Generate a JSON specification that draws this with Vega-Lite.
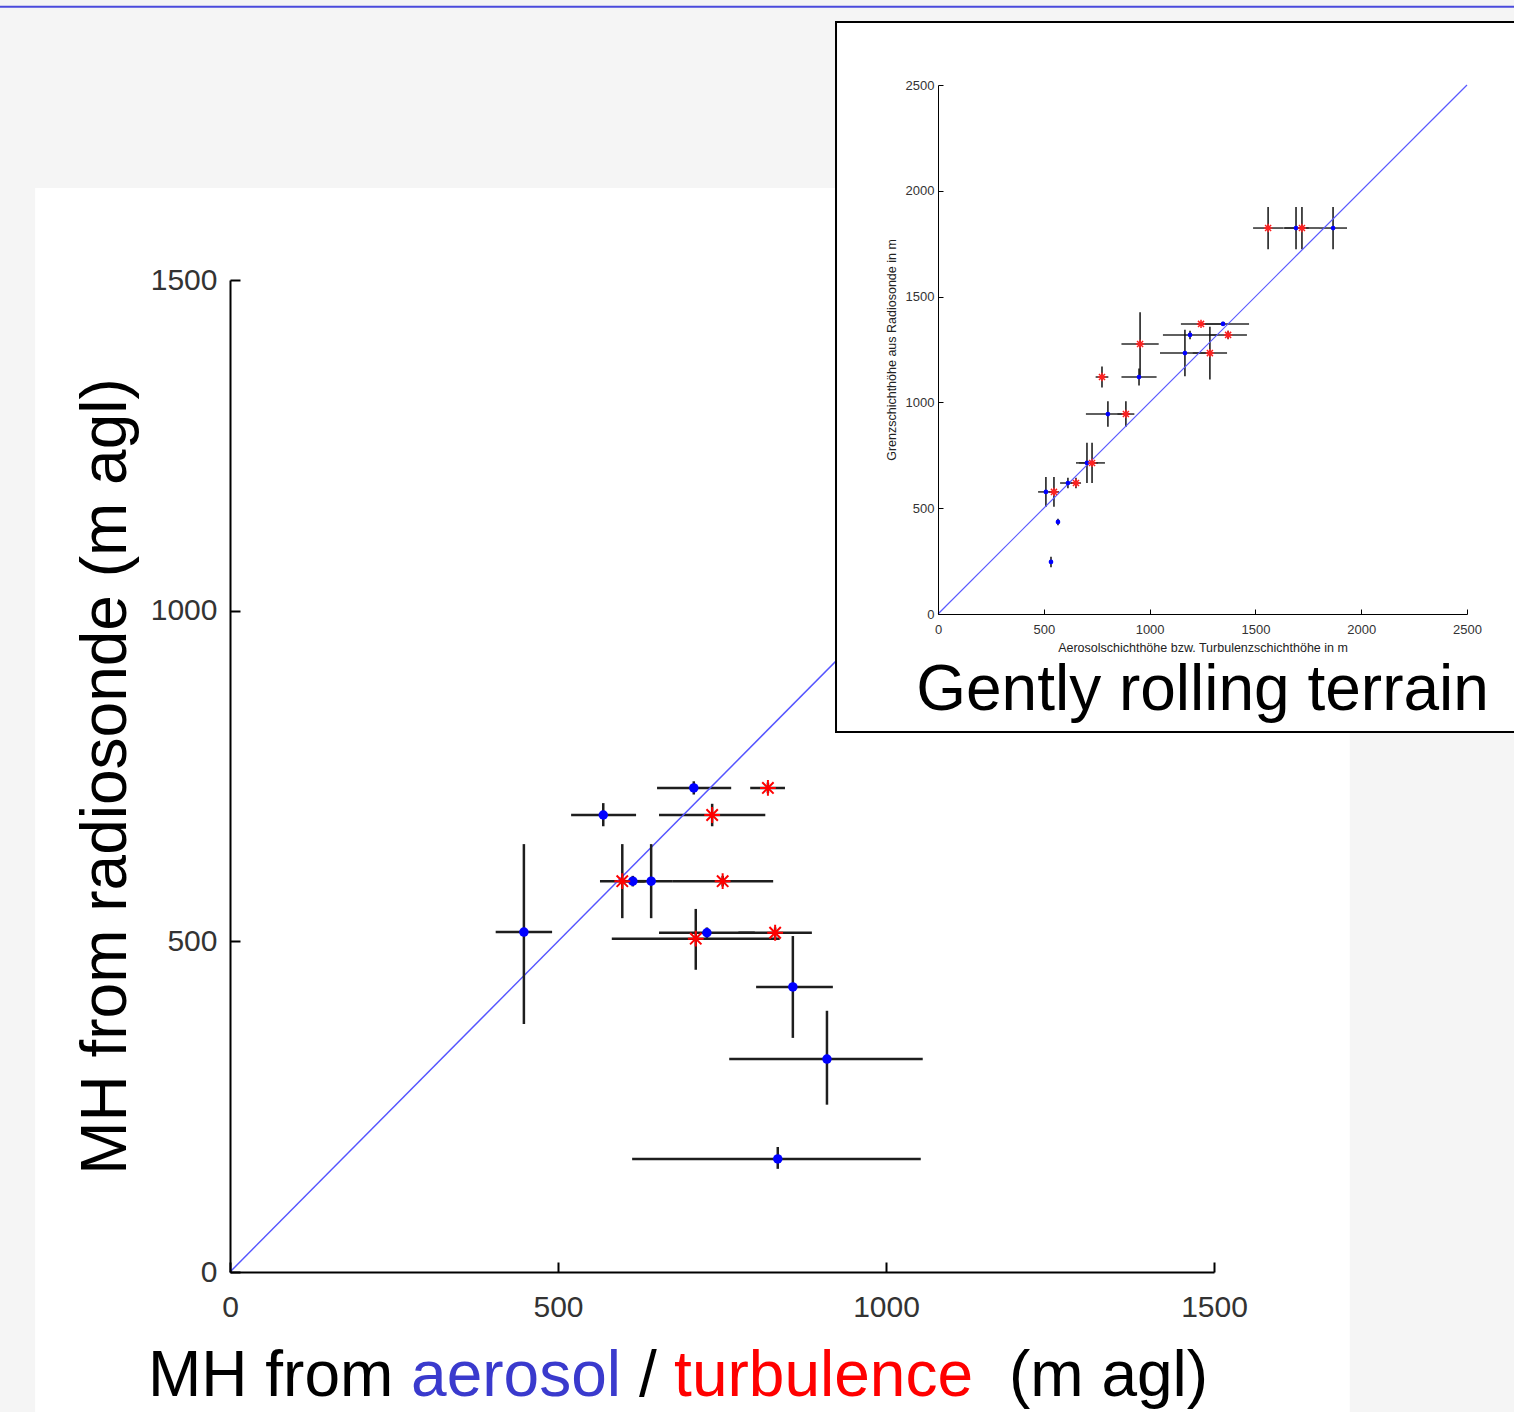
{
  "$schema": "https://vega.github.io/schema/vega-lite/v6.json",
  "width": 984,
  "height": 992,
  "autosize": "none",
  "padding": {"left": 230, "top": 280, "right": 300, "bottom": 140},
  "background": "white",
  "config": {
    "view": {"stroke": null},
    "font": "Liberation Sans",
    "axis": {"grid": false}
  },
  "datasets": {
    "main": [
      {"src": "aerosol", "x": 707, "y": 732, "x_lo": 651, "x_hi": 764, "y_lo": 722, "y_hi": 742},
      {"src": "aerosol", "x": 569, "y": 691, "x_lo": 520, "x_hi": 619, "y_lo": 674, "y_hi": 709},
      {"src": "aerosol", "x": 614, "y": 591, "x_lo": 594, "x_hi": 634, "y_lo": 583, "y_hi": 599},
      {"src": "aerosol", "x": 642, "y": 591, "x_lo": 610, "x_hi": 674, "y_lo": 535, "y_hi": 647},
      {"src": "aerosol", "x": 448, "y": 514, "x_lo": 405, "x_hi": 491, "y_lo": 375, "y_hi": 647},
      {"src": "aerosol", "x": 727, "y": 513, "x_lo": 654, "x_hi": 800, "y_lo": 505, "y_hi": 521},
      {"src": "aerosol", "x": 858, "y": 431, "x_lo": 802, "x_hi": 919, "y_lo": 354, "y_hi": 508},
      {"src": "aerosol", "x": 910, "y": 322, "x_lo": 761, "x_hi": 1056, "y_lo": 253, "y_hi": 395},
      {"src": "aerosol", "x": 835, "y": 171, "x_lo": 613, "x_hi": 1053, "y_lo": 156, "y_hi": 189},
      {"src": "turbulence", "x": 820, "y": 732, "x_lo": 793, "x_hi": 846, "y_lo": 724, "y_hi": 740},
      {"src": "turbulence", "x": 735, "y": 691, "x_lo": 654, "x_hi": 816, "y_lo": 674, "y_hi": 708},
      {"src": "turbulence", "x": 598, "y": 591, "x_lo": 564, "x_hi": 632, "y_lo": 535, "y_hi": 647},
      {"src": "turbulence", "x": 751, "y": 591, "x_lo": 674, "x_hi": 828, "y_lo": 583, "y_hi": 599},
      {"src": "turbulence", "x": 710, "y": 504, "x_lo": 582, "x_hi": 838, "y_lo": 457, "y_hi": 549},
      {"src": "turbulence", "x": 831, "y": 513, "x_lo": 775, "x_hi": 887, "y_lo": 505, "y_hi": 521}
    ],
    "inset": [
      {"src": "aerosol", "x": 950, "y": 1120, "x_lo": 867, "x_hi": 1033, "y_lo": 1080, "y_hi": 1160},
      {"src": "aerosol", "x": 803, "y": 945, "x_lo": 699, "x_hi": 907, "y_lo": 885, "y_hi": 1005},
      {"src": "aerosol", "x": 704, "y": 714, "x_lo": 652, "x_hi": 756, "y_lo": 619, "y_hi": 809},
      {"src": "aerosol", "x": 614, "y": 619, "x_lo": 577, "x_hi": 651, "y_lo": 594, "y_hi": 644},
      {"src": "aerosol", "x": 510, "y": 577, "x_lo": 473, "x_hi": 547, "y_lo": 507, "y_hi": 647},
      {"src": "aerosol", "x": 567, "y": 435, "x_lo": 567, "x_hi": 567, "y_lo": 420, "y_hi": 450},
      {"src": "aerosol", "x": 534, "y": 246, "x_lo": 534, "x_hi": 534, "y_lo": 221, "y_hi": 271},
      {"src": "aerosol", "x": 1692, "y": 1824, "x_lo": 1632, "x_hi": 1752, "y_lo": 1724, "y_hi": 1924},
      {"src": "aerosol", "x": 1867, "y": 1824, "x_lo": 1801, "x_hi": 1933, "y_lo": 1724, "y_hi": 1924},
      {"src": "aerosol", "x": 1347, "y": 1371, "x_lo": 1224, "x_hi": 1470, "y_lo": 1361, "y_hi": 1381},
      {"src": "aerosol", "x": 1191, "y": 1319, "x_lo": 1063, "x_hi": 1319, "y_lo": 1299, "y_hi": 1339},
      {"src": "aerosol", "x": 1167, "y": 1233, "x_lo": 1049, "x_hi": 1285, "y_lo": 1123, "y_hi": 1343},
      {"src": "turbulence", "x": 955, "y": 1276, "x_lo": 867, "x_hi": 1043, "y_lo": 1126, "y_hi": 1426},
      {"src": "turbulence", "x": 775, "y": 1120, "x_lo": 745, "x_hi": 805, "y_lo": 1070, "y_hi": 1170},
      {"src": "turbulence", "x": 888, "y": 945, "x_lo": 848, "x_hi": 928, "y_lo": 885, "y_hi": 1005},
      {"src": "turbulence", "x": 728, "y": 714, "x_lo": 667, "x_hi": 789, "y_lo": 619, "y_hi": 809},
      {"src": "turbulence", "x": 652, "y": 619, "x_lo": 628, "x_hi": 676, "y_lo": 594, "y_hi": 644},
      {"src": "turbulence", "x": 548, "y": 577, "x_lo": 524, "x_hi": 572, "y_lo": 507, "y_hi": 647},
      {"src": "turbulence", "x": 1560, "y": 1824, "x_lo": 1489, "x_hi": 1631, "y_lo": 1724, "y_hi": 1924},
      {"src": "turbulence", "x": 1720, "y": 1824, "x_lo": 1638, "x_hi": 1802, "y_lo": 1724, "y_hi": 1924},
      {"src": "turbulence", "x": 1243, "y": 1371, "x_lo": 1148, "x_hi": 1338, "y_lo": 1361, "y_hi": 1381},
      {"src": "turbulence", "x": 1371, "y": 1319, "x_lo": 1282, "x_hi": 1460, "y_lo": 1299, "y_hi": 1339},
      {"src": "turbulence", "x": 1285, "y": 1233, "x_lo": 1204, "x_hi": 1366, "y_lo": 1108, "y_hi": 1358}
    ]
  },
  "layer": [
    {
      "layer": [
        {
          "data": {"name": "main"},
          "mark": {"type": "rule", "color": "#1e1e1e", "strokeWidth": 2.5},
          "encoding": {
            "x": {
              "field": "x_lo", "type": "quantitative",
              "scale": {"domain": [0, 1500], "nice": false, "zero": false},
              "axis": {
                "orient": "bottom", "values": [0, 500, 1000, 1500], "format": "d", "title": null,
                "tickSize": -10, "tickWidth": 2, "tickColor": "black",
                "domainColor": "black", "domainWidth": 2,
                "labelFontSize": 30, "labelColor": "#333", "labelFont": "Liberation Sans",
                "labelPadding": 30, "labelFlush": false, "labelOverlap": false, "zindex": 1
              }
            },
            "x2": {"field": "x_hi"},
            "y": {
              "field": "y", "type": "quantitative",
              "scale": {"domain": [0, 1500], "nice": false, "zero": false},
              "axis": {
                "orient": "left", "values": [0, 500, 1000, 1500], "format": "d",
                "title": "MH from radiosonde (m agl)",
                "titleFontSize": 64, "titleFont": "Liberation Sans", "titleFontWeight": "normal",
                "titleColor": "black", "titlePadding": 12,
                "tickSize": -10, "tickWidth": 2, "tickColor": "black",
                "domainColor": "black", "domainWidth": 2,
                "labelFontSize": 30, "labelColor": "#333", "labelFont": "Liberation Sans",
                "labelPadding": 23, "labelFlush": false, "labelOverlap": false, "zindex": 1
              }
            }
          }
        },
        {
          "data": {"values": [{}]},
          "mark": {"type": "rect", "fill": "#f5f5f5"},
          "encoding": {
            "x": {"datum": -360, "type": "quantitative"},
            "x2": {"datum": 1970},
            "y": {"datum": 1935, "type": "quantitative"},
            "y2": {"datum": 1639}
          }
        },
        {
          "data": {"values": [{}]},
          "mark": {"type": "rect", "fill": "#f5f5f5"},
          "encoding": {
            "x": {"datum": -360, "type": "quantitative"},
            "x2": {"datum": -297},
            "y": {"datum": 1639, "type": "quantitative"},
            "y2": {"datum": -230}
          }
        },
        {
          "data": {"values": [{}]},
          "mark": {"type": "rect", "fill": "#f5f5f5"},
          "encoding": {
            "x": {"datum": 1707, "type": "quantitative"},
            "x2": {"datum": 1970},
            "y": {"datum": 1639, "type": "quantitative"},
            "y2": {"datum": -230}
          }
        },
        {
          "data": {"values": [{}]},
          "mark": {"type": "rule", "color": "#4b4bdc", "strokeWidth": 2},
          "encoding": {
            "x": {"datum": -351, "type": "quantitative"},
            "x2": {"datum": 1958},
            "y": {"datum": 1913, "type": "quantitative"}
          }
        },
        {
          "data": {"values": [{}]},
          "mark": {"type": "rule", "color": "#5555ff", "strokeWidth": 1.5},
          "encoding": {
            "x": {"datum": 0, "type": "quantitative"},
            "y": {"datum": 0, "type": "quantitative"},
            "x2": {"datum": 1500},
            "y2": {"datum": 1500}
          }
        },
        {
          "data": {"name": "main"},
          "mark": {"type": "rule", "color": "#1e1e1e", "strokeWidth": 2.5},
          "encoding": {
            "x": {"field": "x", "type": "quantitative"},
            "y": {"field": "y_lo", "type": "quantitative"},
            "y2": {"field": "y_hi"}
          }
        },
        {
          "data": {"name": "main"},
          "transform": [{"filter": "datum.src === 'aerosol'"}],
          "mark": {"type": "point", "shape": "circle", "filled": true, "color": "#0000ff", "size": 90, "opacity": 1},
          "encoding": {
            "x": {"field": "x", "type": "quantitative"},
            "y": {"field": "y", "type": "quantitative"}
          }
        },
        {
          "data": {"name": "main"},
          "transform": [{"filter": "datum.src === 'turbulence'"}],
          "mark": {
            "type": "point", "filled": false, "color": "#ff0000", "strokeWidth": 2, "size": 250, "opacity": 1,
            "shape": "M-1,0L1,0M0,-1L0,1M-0.72,-0.72L0.72,0.72M-0.72,0.72L0.72,-0.72"
          },
          "encoding": {
            "x": {"field": "x", "type": "quantitative"},
            "y": {"field": "y", "type": "quantitative"}
          }
        },
        {
          "data": {"values": [{}]},
          "mark": {"type": "text", "text": "MH from", "align": "left", "baseline": "alphabetic", "fontSize": 64, "font": "Liberation Sans", "color": "black"},
          "encoding": {
            "x": {"datum": -125, "type": "quantitative"},
            "y": {"datum": -187.5, "type": "quantitative"}
          }
        },
        {
          "data": {"values": [{}]},
          "mark": {"type": "text", "text": "aerosol", "align": "left", "baseline": "alphabetic", "fontSize": 64, "font": "Liberation Sans", "color": "#3a3acd"},
          "encoding": {
            "x": {"datum": 276, "type": "quantitative"},
            "y": {"datum": -187.5, "type": "quantitative"}
          }
        },
        {
          "data": {"values": [{}]},
          "mark": {"type": "text", "text": "/", "align": "left", "baseline": "alphabetic", "fontSize": 64, "font": "Liberation Sans", "color": "black"},
          "encoding": {
            "x": {"datum": 623.5, "type": "quantitative"},
            "y": {"datum": -187.5, "type": "quantitative"}
          }
        },
        {
          "data": {"values": [{}]},
          "mark": {"type": "text", "text": "turbulence", "align": "left", "baseline": "alphabetic", "fontSize": 64, "font": "Liberation Sans", "color": "#ff0000"},
          "encoding": {
            "x": {"datum": 677, "type": "quantitative"},
            "y": {"datum": -187.5, "type": "quantitative"}
          }
        },
        {
          "data": {"values": [{}]},
          "mark": {"type": "text", "text": "(m agl)", "align": "left", "baseline": "alphabetic", "fontSize": 64, "font": "Liberation Sans", "color": "black"},
          "encoding": {
            "x": {"datum": 1187.5, "type": "quantitative"},
            "y": {"datum": -187.5, "type": "quantitative"}
          }
        },
        {
          "data": {"values": [{}]},
          "mark": {"type": "rect", "fill": "white", "stroke": "black", "strokeWidth": 2},
          "encoding": {
            "x": {"datum": 923.8, "type": "quantitative"},
            "x2": {"datum": 1975},
            "y": {"datum": 1890, "type": "quantitative"},
            "y2": {"datum": 816.6}
          }
        }
      ]
    },
    {
      "layer": [
        {
          "data": {"name": "inset"},
          "mark": {"type": "rule", "color": "#2a2a2a", "strokeWidth": 1.5},
          "encoding": {
            "x": {
              "field": "x_lo", "type": "quantitative",
              "scale": {"domain": [0, 2500], "range": [708, 1237], "nice": false, "zero": false},
              "axis": {
                "orient": "bottom", "offset": -658, "values": [0, 500, 1000, 1500, 2000, 2500], "format": "d",
                "title": "Aerosolschichthöhe bzw. Turbulenzschichthöhe in m",
                "titleFontSize": 12.5, "titleFont": "Liberation Sans", "titleFontWeight": "normal",
                "titleColor": "#222", "titlePadding": 5,
                "tickSize": -5, "tickWidth": 1, "tickColor": "black",
                "domainColor": "black", "domainWidth": 1,
                "labelFontSize": 13, "labelColor": "#333", "labelFont": "Liberation Sans",
                "labelPadding": 14, "labelFlush": false, "labelOverlap": false, "zindex": 1
              }
            },
            "x2": {"field": "x_hi"},
            "y": {
              "field": "y", "type": "quantitative",
              "scale": {"domain": [0, 2500], "range": [334, -195], "nice": false, "zero": false},
              "axis": {
                "orient": "left", "offset": -708, "values": [0, 500, 1000, 1500, 2000, 2500], "format": "d",
                "title": "Grenzschichthöhe aus Radiosonde in m",
                "titleFontSize": 12.5, "titleFont": "Liberation Sans", "titleFontWeight": "normal",
                "titleColor": "#222", "titlePadding": 7,
                "tickSize": -5, "tickWidth": 1, "tickColor": "black",
                "domainColor": "black", "domainWidth": 1,
                "labelFontSize": 13, "labelColor": "#333", "labelFont": "Liberation Sans",
                "labelPadding": 9, "labelFlush": false, "labelOverlap": false, "zindex": 1
              }
            }
          }
        },
        {
          "data": {"name": "inset"},
          "mark": {"type": "rule", "color": "#111", "strokeWidth": 1.5},
          "encoding": {
            "x": {"field": "x", "type": "quantitative"},
            "y": {"field": "y_lo", "type": "quantitative"},
            "y2": {"field": "y_hi"}
          }
        },
        {
          "data": {"values": [{}]},
          "mark": {"type": "rule", "color": "#5a5aff", "strokeWidth": 1.2},
          "encoding": {
            "x": {"datum": 0, "type": "quantitative"},
            "y": {"datum": 0, "type": "quantitative"},
            "x2": {"datum": 2500},
            "y2": {"datum": 2500}
          }
        },
        {
          "data": {"name": "inset"},
          "transform": [{"filter": "datum.src === 'aerosol'"}],
          "mark": {"type": "point", "shape": "circle", "filled": true, "color": "#0000ff", "size": 22, "opacity": 1},
          "encoding": {
            "x": {"field": "x", "type": "quantitative"},
            "y": {"field": "y", "type": "quantitative"}
          }
        },
        {
          "data": {"name": "inset"},
          "transform": [{"filter": "datum.src === 'turbulence'"}],
          "mark": {
            "type": "point", "filled": false, "color": "#ff2020", "strokeWidth": 1.5, "size": 70, "opacity": 1,
            "shape": "M-1,0L1,0M0,-1L0,1M-0.72,-0.72L0.72,0.72M-0.72,0.72L0.72,-0.72"
          },
          "encoding": {
            "x": {"field": "x", "type": "quantitative"},
            "y": {"field": "y", "type": "quantitative"}
          }
        },
        {
          "data": {"values": [{}]},
          "mark": {"type": "text", "text": "Gently rolling terrain", "align": "center", "baseline": "alphabetic", "fontSize": 64, "font": "Liberation Sans", "color": "black"},
          "encoding": {
            "x": {"datum": 1250, "type": "quantitative"},
            "y": {"datum": -454, "type": "quantitative"}
          }
        }
      ]
    }
  ],
  "resolve": {"scale": {"x": "independent", "y": "independent"}}
}
